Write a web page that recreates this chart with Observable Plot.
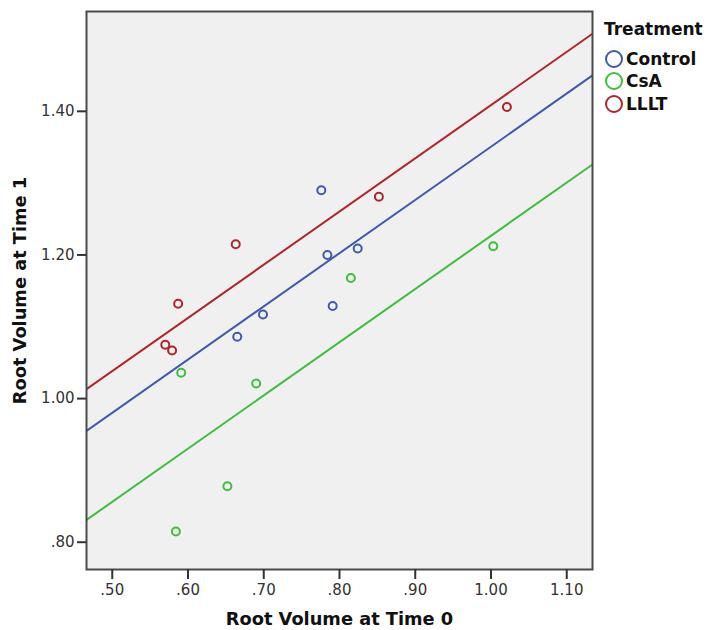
<!DOCTYPE html>
<html>
<head>
<meta charset="utf-8">
<script src="https://cdn.jsdelivr.net/npm/d3@7"></script>
<script src="https://cdn.jsdelivr.net/npm/@observablehq/plot@0.6"></script>
<style>
  body { margin: 0; background: #fff; font-family: "DejaVu Sans", sans-serif; }
  #wrap { position: relative; width: 707px; height: 630px; }
  #legend { position: absolute; left: 604px; top: 19px; color: #111; font-weight: bold; font-size: 17px; }
  #legend .title { line-height: 20px; height: 29px; }
  #legend .row { display: flex; align-items: center; height: 22.3px; }
  #legend svg { display: block; margin-right: 1px; }
</style>
</head>
<body>
<div id="wrap"></div>
<script>
// ---- data ----
const categories = ["Control", "CsA", "LLLT"];
const colors = ["#4159ad", "#3dbf3d", "#b0252b"];

const controlX = [0.776, 0.784, 0.824, 0.791, 0.699, 0.665];
const controlY = [1.290, 1.200, 1.209, 1.129, 1.117, 1.086];

const csaX = [0.591, 0.690, 0.815, 1.003, 0.652, 0.584];
const csaY = [1.036, 1.021, 1.168, 1.212, 0.878, 0.815];

const llltX = [1.021, 0.852, 0.663, 0.587, 0.570, 0.579];
const llltY = [1.406, 1.281, 1.215, 1.132, 1.075, 1.067];

// fitted (parallel) lines, values at the two ends of the x range
const fitX = [0.466, 1.134];
const fitControl = [0.955, 1.450];
const fitCsA = [0.831, 1.326];
const fitLLLT = [1.013, 1.508];

const xTicks = [0.5, 0.6, 0.7, 0.8, 0.9, 1.0, 1.1];
const yTicks = [0.8, 1.0, 1.2, 1.4];
const xLabel = "Root Volume at Time 0";
const yLabel = "Root Volume at Time 1";
const legendTitle = "Treatment";

// ---- build tables ----
const points = [
  ...controlX.map((x, i) => ({group: "Control", x, y: controlY[i]})),
  ...csaX.map((x, i) => ({group: "CsA", x, y: csaY[i]})),
  ...llltX.map((x, i) => ({group: "LLLT", x, y: llltY[i]}))
];
const fits = [
  ...fitX.map((x, i) => ({group: "Control", x, y: fitControl[i]})),
  ...fitX.map((x, i) => ({group: "CsA", x, y: fitCsA[i]})),
  ...fitX.map((x, i) => ({group: "LLLT", x, y: fitLLLT[i]}))
];

const fmt = d => d3.format(".2f")(d).replace(/^0\./, ".");

const chart = Plot.plot({
  width: 707,
  height: 630,
  marginLeft: 86,
  marginRight: 115,
  marginTop: 11,
  marginBottom: 61,
  style: {fontFamily: "DejaVu Sans, sans-serif", background: "#fff", overflow: "visible"},
  x: {domain: [0.466, 1.134]},
  y: {domain: [0.762, 1.539]},
  color: {domain: categories, range: colors},
  marks: [
    Plot.frame({fill: "#f0f0f0", stroke: "none"}),
    Plot.line(fits, {x: "x", y: "y", z: "group", stroke: "group", strokeWidth: 2, clip: true}),
    Plot.dot(points, {x: "x", y: "y", stroke: "group", r: 4, strokeWidth: 2, fill: "none"}),
    Plot.frame({stroke: "#4a4a4a", strokeWidth: 2}),
    Plot.axisX(xTicks, {tickSize: 10, tickPadding: 5, tickFormat: fmt, fontSize: 15, color: "#333", strokeWidth: 2, label: null}),
    Plot.axisY(yTicks, {tickSize: 9, tickPadding: 3, tickFormat: fmt, fontSize: 15, color: "#333", strokeWidth: 2, label: null}),
    Plot.text([xLabel], {frameAnchor: "bottom", textAnchor: "middle", lineAnchor: "middle", dy: 50, fontSize: 17.8, fontWeight: "bold", fill: "#111"}),
    Plot.text([yLabel], {frameAnchor: "left", textAnchor: "middle", lineAnchor: "middle", dx: -66, rotate: -90, fontSize: 17.8, fontWeight: "bold", fill: "#111"})
  ]
});

const wrap = document.getElementById("wrap");
wrap.appendChild(chart);

// legend
const legend = document.createElement("div");
legend.id = "legend";
const t = document.createElement("div");
t.className = "title";
t.textContent = legendTitle;
legend.appendChild(t);
categories.forEach((c, i) => {
  const row = document.createElement("div");
  row.className = "row";
  row.innerHTML = `<svg width="21" height="22"><circle cx="10" cy="11" r="8" fill="none" stroke="${colors[i]}" stroke-width="2"/></svg><span>${c}</span>`;
  legend.appendChild(row);
});
wrap.appendChild(legend);
</script>
</body>
</html>
